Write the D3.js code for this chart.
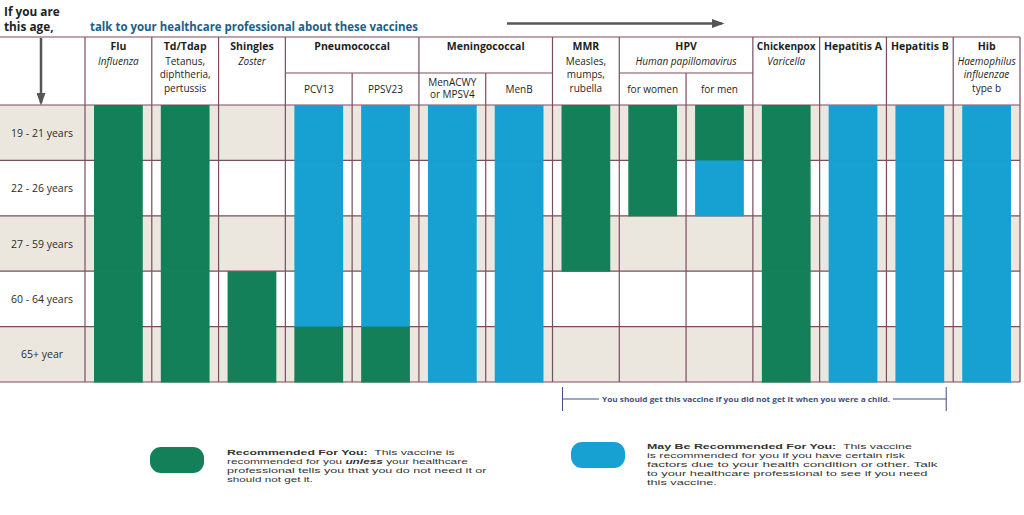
<!DOCTYPE html>
<html>
<head>
<meta charset="utf-8">
<script src="https://cdn.jsdelivr.net/npm/d3@7"></script>
<style>
  html, body { margin: 0; padding: 0; background: #fff; }
  svg { display: block; font-family: "Open Sans", "Noto Sans", sans-serif; }
</style>
</head>
<body>
<svg id="chart" width="1024" height="515"></svg>
<script>
// ---------- DATA ----------
const ageGroups = ["19 - 21 years", "22 - 26 years", "27 - 59 years", "60 - 64 years", "65+ year"];
const vaccineColumns = ["Flu", "Td/Tdap", "Shingles", "PCV13", "PPSV23", "MenACWY", "MenB", "MMR",
  "HPV women", "HPV men", "Chickenpox", "Hepatitis A", "Hepatitis B", "Hib"];
// R = recommended, M = may be recommended, "" = none (per age group)
const flu        = ["R", "R", "R", "R", "R"];
const tdap       = ["R", "R", "R", "R", "R"];
const shingles   = ["", "", "", "R", "R"];
const pcv13      = ["M", "M", "M", "M", "R"];
const ppsv23     = ["M", "M", "M", "M", "R"];
const menacwy    = ["M", "M", "M", "M", "M"];
const menb       = ["M", "M", "M", "M", "M"];
const mmr        = ["R", "R", "R", "", ""];
const hpvWomen   = ["R", "R", "", "", ""];
const hpvMen     = ["R", "M", "", "", ""];
const chickenpox = ["R", "R", "R", "R", "R"];
const hepA       = ["M", "M", "M", "M", "M"];
const hepB       = ["M", "M", "M", "M", "M"];
const hib        = ["M", "M", "M", "M", "M"];
const statusByVaccine = [flu, tdap, shingles, pcv13, ppsv23, menacwy, menb, mmr, hpvWomen, hpvMen, chickenpox, hepA, hepB, hib];

// header groups: title, sub lines (text, italic), columns spanned, sub-column labels
const headerTitles = ["Flu", "Td/Tdap", "Shingles", "Pneumococcal", "Meningococcal", "MMR", "HPV", "Chickenpox", "Hepatitis A", "Hepatitis B", "Hib"];
const headerSpans  = [1, 1, 1, 2, 2, 1, 2, 1, 1, 1, 1];
const headerSubLines = [
  [["Influenza", true]],
  [["Tetanus,", false], ["diphtheria,", false], ["pertussis", false]],
  [["Zoster", true]],
  [],
  [],
  [["Measles,", false], ["mumps,", false], ["rubella", false]],
  [["Human papillomavirus", true]],
  [["Varicella", true]],
  [],
  [],
  [["Haemophilus", true], ["influenzae", true], ["type b", false]]
];
const subColumnLabels = { "PCV13": ["PCV13"], "PPSV23": ["PPSV23"], "MenACWY": ["MenACWY", "or MPSV4"], "MenB": ["MenB"],
  "HPV women": ["for women"], "HPV men": ["for men"] };
const legendItems = ["R", "M"];

// ---------- STYLE ----------
const GREEN = "#138059", BLUE = "#17a1d3", BEIGE = "#ebe7de", LINE = "#7a4d60";
const svg = d3.select("#chart");

const tableLeft = 85, tableRight = 1020, tableTop = 37, subTop = 73, headBottom = 105, tableBottom = 382;

const x = d3.scaleBand().domain(vaccineColumns).range([tableLeft, tableRight]).paddingInner(0).paddingOuter(0);
const xBar = d3.scaleBand().domain(vaccineColumns).range([tableLeft, tableRight]).paddingInner(0.27).paddingOuter(0.135);
const y = d3.scaleBand().domain(ageGroups).range([headBottom, tableBottom]).padding(0);
const color = d3.scaleOrdinal().domain(["R", "M"]).range([GREEN, BLUE]);

// row backgrounds
svg.append("g").selectAll("rect").data(ageGroups).join("rect")
  .attr("x", 0).attr("y", d => y(d)).attr("width", tableRight).attr("height", y.bandwidth())
  .attr("fill", (d, i) => i % 2 === 0 ? BEIGE : "#fff");

// row lines
const rowLines = ageGroups.map(d => y(d)).concat([tableBottom]);
svg.append("g").selectAll("line").data(rowLines).join("line")
  .attr("x1", 0).attr("x2", tableRight).attr("y1", d => d).attr("y2", d => d)
  .attr("stroke", LINE).attr("stroke-width", 1.2);

// row labels
svg.append("g").selectAll("text").data(ageGroups).join("text")
  .attr("x", 42).attr("y", d => y(d) + y.bandwidth() / 2 + 4)
  .attr("text-anchor", "middle").attr("font-size", 10.5).attr("fill", "#2b2b2b")
  .text(d => d);

// header lines
svg.append("line").attr("x1", 0).attr("x2", tableRight).attr("y1", tableTop).attr("y2", tableTop)
  .attr("stroke", LINE).attr("stroke-width", 1.2);

// group boundaries
let colIdx = 0;
const groups = headerTitles.map((t, i) => {
  const start = colIdx; colIdx += headerSpans[i];
  return { title: t, start, end: colIdx, sub: headerSubLines[i] };
});
const boundaryX = c => c < vaccineColumns.length ? x(vaccineColumns[c]) : tableRight;
const majorLines = [boundaryX(0)].concat(groups.map(g => boundaryX(g.end)));
svg.append("g").selectAll("line").data(majorLines).join("line")
  .attr("x1", d => d).attr("x2", d => d).attr("y1", tableTop).attr("y2", tableBottom)
  .attr("stroke", LINE).attr("stroke-width", 1.2);
// sub-column lines and horizontal split
groups.filter(g => g.end - g.start > 1).forEach(g => {
  svg.append("line").attr("x1", boundaryX(g.start)).attr("x2", boundaryX(g.end))
    .attr("y1", subTop).attr("y2", subTop).attr("stroke", LINE).attr("stroke-width", 1.2);
  for (let c = g.start + 1; c < g.end; c++) {
    svg.append("line").attr("x1", boundaryX(c)).attr("x2", boundaryX(c))
      .attr("y1", subTop).attr("y2", tableBottom).attr("stroke", LINE).attr("stroke-width", 1.2);
  }
});

// header text
const hg = svg.append("g").attr("fill", "#1e1e1e");
groups.forEach(g => {
  const cx = (boundaryX(g.start) + boundaryX(g.end)) / 2;
  const w = boundaryX(g.end) - boundaryX(g.start);
  const t = hg.append("text").attr("x", cx).attr("y", 50).attr("text-anchor", "middle")
    .attr("font-size", 10.5).attr("font-weight", "bold").text(g.title);
  const tl = t.node().getComputedTextLength();
  if (tl > w - 8) t.attr("textLength", w - 8).attr("lengthAdjust", "spacingAndGlyphs");
  g.sub.forEach((s, k) => {
    hg.append("text").attr("x", cx).attr("y", 65 + k * 13.4).attr("text-anchor", "middle")
      .attr("font-size", 10).attr("font-style", s[1] ? "italic" : "normal").text(s[0]);
  });
});
Object.keys(subColumnLabels).forEach(v => {
  const lines = subColumnLabels[v];
  const cx = x(v) + x.bandwidth() / 2;
  const y0 = lines.length === 1 ? 93 : 85.5;
  lines.forEach((l, k) => {
    hg.append("text").attr("x", cx).attr("y", y0 + k * 12.8).attr("text-anchor", "middle")
      .attr("font-size", 10).text(l);
  });
});

// bars
const cells = [];
vaccineColumns.forEach((v, i) => statusByVaccine[i].forEach((s, j) => { if (s) cells.push({ v, age: ageGroups[j], s }); }));
svg.append("g").selectAll("rect").data(cells).join("rect")
  .attr("x", d => xBar(d.v)).attr("width", xBar.bandwidth())
  .attr("y", d => y(d.age)).attr("height", y.bandwidth() + 0.5)
  .attr("fill", d => color(d.s));

// top texts
svg.append("text").attr("x", 4).attr("y", 16).attr("font-size", 11.8).attr("font-weight", "bold").attr("fill", "#222").text("If you are");
svg.append("text").attr("x", 4).attr("y", 31).attr("font-size", 11.8).attr("font-weight", "bold").attr("fill", "#222").text("this age,");
svg.append("text").attr("x", 90).attr("y", 31).attr("font-size", 12.6).attr("font-weight", "bold").attr("fill", "#1d5e86")
  .attr("textLength", 328).attr("lengthAdjust", "spacingAndGlyphs")
  .text("talk to your healthcare professional about these vaccines");

// arrows
const defs = svg.append("defs");
defs.append("marker").attr("id", "ah").attr("viewBox", "0 0 10 10").attr("refX", 8).attr("refY", 5)
  .attr("markerWidth", 5).attr("markerHeight", 3.6).attr("markerUnits", "strokeWidth").attr("orient", "auto")
  .attr("preserveAspectRatio", "none")
  .append("path").attr("d", "M0,0 L10,5 L0,10 z").attr("fill", "#555");
svg.append("line").attr("x1", 507).attr("x2", 722).attr("y1", 23.5).attr("y2", 23.5)
  .attr("stroke", "#555").attr("stroke-width", 2.5).attr("marker-end", "url(#ah)");
svg.append("line").attr("x1", 41).attr("x2", 41).attr("y1", 38).attr("y2", 103)
  .attr("stroke", "#555").attr("stroke-width", 2.5).attr("marker-end", "url(#ah)");

// bracket note
const noteL = x("MMR") + 10, noteR = x("Hepatitis B") + x.bandwidth() - 7, noteY = 399;
const NOTE = "#3d4f86";
svg.append("line").attr("x1", noteL).attr("x2", noteL).attr("y1", 387).attr("y2", 411).attr("stroke", NOTE);
svg.append("line").attr("x1", noteR).attr("x2", noteR).attr("y1", 387).attr("y2", 411).attr("stroke", NOTE);
svg.append("line").attr("x1", noteL).attr("x2", 599).attr("y1", noteY).attr("y2", noteY).attr("stroke", NOTE);
svg.append("line").attr("x1", 893).attr("x2", noteR).attr("y1", noteY).attr("y2", noteY).attr("stroke", NOTE);
svg.append("text").attr("x", 746).attr("y", noteY + 3).attr("text-anchor", "middle").attr("font-size", 7.8)
  .attr("font-weight", "bold").attr("fill", NOTE).attr("textLength", 288).attr("lengthAdjust", "spacingAndGlyphs")
  .text("You should get this vaccine if you did not get it when you were a child.");

// legend
const legendPos = { R: { bx: 150, by: 447, tx: 227, ty: 454.5 }, M: { bx: 571, by: 442, tx: 647, ty: 448.5 } };
const lg = svg.append("g");
lg.selectAll("rect").data(legendItems).join("rect")
  .attr("x", d => legendPos[d].bx).attr("y", d => legendPos[d].by)
  .attr("width", 54).attr("height", 26).attr("rx", 11).attr("fill", d => color(d));

function legendText(tx, ty, lines, widths) {
  lines.forEach((segs, k) => {
    const t = lg.append("text").attr("font-size", 9.5).attr("fill", "#333")
      .attr("font-family", "'Liberation Sans', Arial, sans-serif").attr("x", 0).attr("y", 0);
    segs.forEach(sg => {
      const ts = t.append("tspan").text(sg[0]);
      if (sg[1]) ts.attr("font-weight", "bold");
      if (sg[2]) ts.attr("font-style", "italic");
    });
    const natural = t.node().getComputedTextLength();
    const sx = widths[k] / natural;
    t.attr("transform", `translate(${tx},${ty + k * 9}) scale(${sx},0.85)`);
  });
}
legendText(legendPos.R.tx, legendPos.R.ty, [
  [["Recommended For You:", true], ["\u00a0 This vaccine is"]],
  [["recommended for you "], ["unless", true, true], [" your healthcare"]],
  [["professional tells you that you do not need it or"]],
  [["should not get it."]]
], [228, 241, 260, 86]);
legendText(legendPos.M.tx, legendPos.M.ty, [
  [["May Be Recommended For You:", true], ["\u00a0 This vaccine"]],
  [["is recommended for you if you have certain risk"]],
  [["factors due to your health condition or other. Talk"]],
  [["to your healthcare professional to see if you need"]],
  [["this vaccine."]]
], [265, 258, 291, 281, 70]);
</script>
</body>
</html>
